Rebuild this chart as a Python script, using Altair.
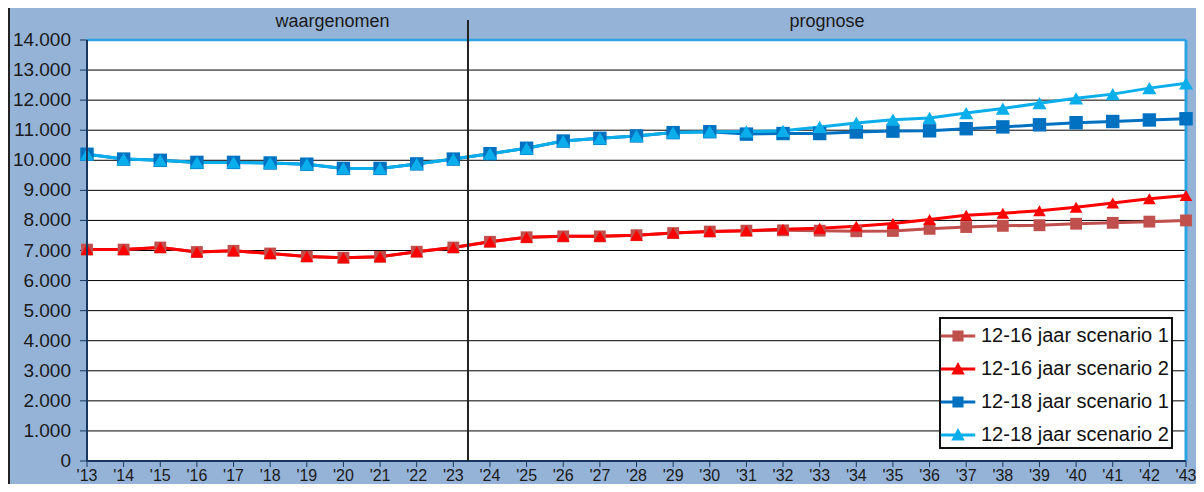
import altair as alt
import pandas as pd

# ---------------- data ----------------
years = list(range(2013, 2044))
year_labels = ["'" + str(y)[2:] for y in years]
series_names = ["12-16 jaar scenario 1", "12-16 jaar scenario 2",
                "12-18 jaar scenario 1", "12-18 jaar scenario 2"]

v1216_sc1 = [7030, 7030, 7100, 6950, 6990, 6900, 6800, 6760, 6790, 6960, 7100,
             7290, 7440, 7470, 7470, 7510, 7580, 7630, 7660, 7670, 7660, 7640,
             7650, 7720, 7780, 7820, 7840, 7890, 7920, 7960, 8000]
v1216_sc2 = [7030, 7030, 7100, 6950, 6990, 6900, 6800, 6760, 6790, 6960, 7100,
             7290, 7440, 7470, 7470, 7510, 7580, 7630, 7660, 7710, 7740, 7810,
             7900, 8030, 8170, 8240, 8320, 8440, 8580, 8720, 8830]
v1218_sc1 = [10200, 10040, 10000, 9930, 9930, 9910, 9870, 9730, 9730, 9880, 10040,
             10220, 10400, 10640, 10730, 10810, 10920, 10950, 10870, 10890, 10890,
             10940, 10970, 10980, 11050, 11110, 11180, 11250, 11290, 11340, 11380]
v1218_sc2 = [10200, 10040, 10000, 9930, 9930, 9910, 9870, 9730, 9730, 9880, 10040,
             10220, 10400, 10640, 10730, 10810, 10920, 10950, 10960, 10980, 11110,
             11240, 11350, 11410, 11570, 11720, 11900, 12060, 12200, 12400, 12560]

y_ticks = list(range(0, 14001, 1000))
y_labels = ["0", "1.000", "2.000", "3.000", "4.000", "5.000", "6.000", "7.000",
            "8.000", "9.000", "10.000", "11.000", "12.000", "13.000", "14.000"]
grid_values = list(range(1000, 14000, 1000))

header_texts = ["waargenomen", "prognose"]
header_pos = [2019.7, 2033.2]
divider_year = [2023.4]

x_min, x_max = 2013, 2043
y_min, y_max = 0, 14000

colors = ["#C0504D", "#FF0000", "#0070C0", "#0AAEEA"]
shapes = ["square", "triangle-up", "square", "triangle-up"]
sizes = [140, 200, 140, 200]

# legend symbols: line with marker (unit box -1..1)
sq_path = "M-1.15,-0.1H1.15V0.1H-1.15Z M-0.37,-0.37H0.37V0.37H-0.37Z"
tr_path = "M-1.15,-0.1H1.15V0.1H-1.15Z M0,-0.47L0.45,0.36H-0.45Z"
legend_paths = [sq_path, tr_path, sq_path, tr_path]

# ---------------- tables ----------------
rows = []
for name, vals in zip(series_names, [v1216_sc1, v1216_sc2, v1218_sc1, v1218_sc2]):
    for yr, v in zip(years, vals):
        rows.append({"year": yr, "value": v, "series": name})
df = pd.DataFrame(rows)
grid_df = pd.DataFrame({"g": grid_values})
ytick_df = pd.DataFrame({"yv": y_ticks, "ylab": y_labels})
xtick_df = pd.DataFrame({"xv": years, "xlab": year_labels})
hdr_df = pd.DataFrame({"htext": header_texts, "hx": header_pos})
legend_df = pd.DataFrame({"label": series_names})
box_df = pd.DataFrame({"x0": [x_min], "x1": [x_max], "y0": [y_min], "y1": [y_max]})
div_df = pd.DataFrame({"dx": divider_year})
one = pd.DataFrame({"a": [0]})

FONT = "Liberation Sans"
AX = "#17375E"
TXT = "#1a1a1a"

xscale = alt.Scale(domain=[x_min, x_max], nice=False, zero=False)
yscale = alt.Scale(domain=[y_min, y_max], nice=False, zero=True)
cmap = alt.Scale(domain=series_names, range=colors)

plot_bg = alt.Chart(box_df).mark_rect(fill="white").encode(
    x=alt.X("x0:Q", scale=xscale, axis=None),
    x2="x1:Q",
    y=alt.Y("y0:Q", scale=yscale, axis=None),
    y2="y1:Q",
)

grid = alt.Chart(grid_df).mark_rule(color="black", strokeWidth=1).encode(
    y=alt.Y("g:Q", scale=yscale, axis=None)
)

top_border = alt.Chart(box_df).mark_rule(color="#2EA3E3", strokeWidth=2.5).encode(
    y=alt.Y("y1:Q", scale=yscale, axis=None),
    x=alt.X("x0:Q", scale=xscale, axis=None),
    x2="x1:Q",
)
right_border = alt.Chart(box_df).mark_rule(color="#2EA3E3", strokeWidth=3).encode(
    x=alt.X("x1:Q", scale=xscale, axis=None),
    y=alt.Y("y0:Q", scale=yscale, axis=None),
    y2="y1:Q",
)

# y axis: ticks, labels, domain line
y_ticks_m = alt.Chart(ytick_df).mark_rule(color=AX, strokeWidth=1).encode(
    y=alt.Y("yv:Q", scale=yscale, axis=None),
    x=alt.value(-7), x2=alt.value(0),
)
y_labels_m = alt.Chart(ytick_df).mark_text(font=FONT, fontSize=19, color=TXT,
                                           align="right", baseline="middle").encode(
    y=alt.Y("yv:Q", scale=yscale, axis=None),
    x=alt.value(-16),
    text="ylab:N",
)
y_domain = alt.Chart(box_df).mark_rule(color=AX, strokeWidth=2).encode(
    x=alt.X("x0:Q", scale=xscale, axis=None),
    y=alt.Y("y0:Q", scale=yscale, axis=None),
    y2="y1:Q",
)

# x axis: ticks, labels, domain line
x_ticks_m = alt.Chart(xtick_df).mark_rule(color=AX, strokeWidth=1).encode(
    x=alt.X("xv:Q", scale=xscale, axis=None),
    y=alt.value(421), y2=alt.value(427),
)
x_labels_m = alt.Chart(xtick_df).mark_text(font=FONT, fontSize=16, color=TXT,
                                           align="center", baseline="alphabetic").encode(
    x=alt.X("xv:Q", scale=xscale, axis=None),
    y=alt.value(441),
    text="xlab:N",
)
x_domain = alt.Chart(box_df).mark_rule(color=AX, strokeWidth=2).encode(
    y=alt.Y("y0:Q", scale=yscale, axis=None),
    x=alt.X("x0:Q", scale=xscale, axis=None),
    x2="x1:Q",
)

lines = alt.Chart(df).mark_line(strokeWidth=3).encode(
    x=alt.X("year:Q", scale=xscale, axis=None),
    y=alt.Y("value:Q", scale=yscale, axis=None),
    color=alt.Color("series:N", scale=cmap, legend=None),
    detail="series:N",
)

points = alt.Chart(df).mark_point(filled=True, opacity=1).encode(
    x=alt.X("year:Q", scale=xscale, axis=None),
    y=alt.Y("value:Q", scale=yscale, axis=None),
    color=alt.Color("series:N", scale=cmap, legend=None),
    shape=alt.Shape("series:N", scale=alt.Scale(domain=series_names, range=shapes), legend=None),
    size=alt.Size("series:N", scale=alt.Scale(domain=series_names, range=sizes), legend=None),
)

divider = alt.Chart(div_df).mark_rule(color="#222222", strokeWidth=2).encode(
    x=alt.X("dx:Q", scale=xscale, axis=None),
    y=alt.value(-20),
    y2=alt.value(421),
)

headers = alt.Chart(hdr_df).mark_text(fontSize=18, font=FONT, color=TXT,
                                      baseline="alphabetic", align="center").encode(
    x=alt.X("hx:Q", scale=xscale, axis=None),
    y=alt.value(-13),
    text="htext:N",
)

frame_left = alt.Chart(one).mark_rule(color="#222222", strokeWidth=2).encode(
    x=alt.value(-78), y=alt.value(-32), y2=alt.value(444)
)

leg = alt.Legend(title=None, orient="none", legendX=853, legendY=278,
                 labelFontSize=20, labelFont=FONT, labelColor="#111111",
                 labelLimit=400,
                 symbolSize=900, rowPadding=8, labelOffset=8, padding=3,
                 fillColor="white", strokeColor="#111111", symbolStrokeWidth=0)

legend_layer = alt.Chart(legend_df).mark_point(filled=True, opacity=1).encode(
    color=alt.Color("label:N", scale=alt.Scale(domain=series_names, range=colors), legend=leg),
    shape=alt.Shape("label:N", scale=alt.Scale(domain=series_names, range=legend_paths), legend=leg),
).transform_filter("false")

chart = alt.layer(
    plot_bg, grid, top_border, right_border, y_ticks_m, y_labels_m, x_ticks_m,
    x_labels_m, lines, points, y_domain, x_domain, divider, headers,
    frame_left, legend_layer
).resolve_scale(
    color="independent", shape="independent"
).properties(
    width=1099, height=421,
    padding={"left": 79, "top": 32, "right": 10, "bottom": 23},
    autosize=alt.AutoSizeParams(type="none"),
    background="#95B3D7",
).configure_view(
    stroke=None
).configure_legend(
    strokeWidth=2
)

chart.save("out.html", embed_options={"renderer": "svg", "actions": False})
